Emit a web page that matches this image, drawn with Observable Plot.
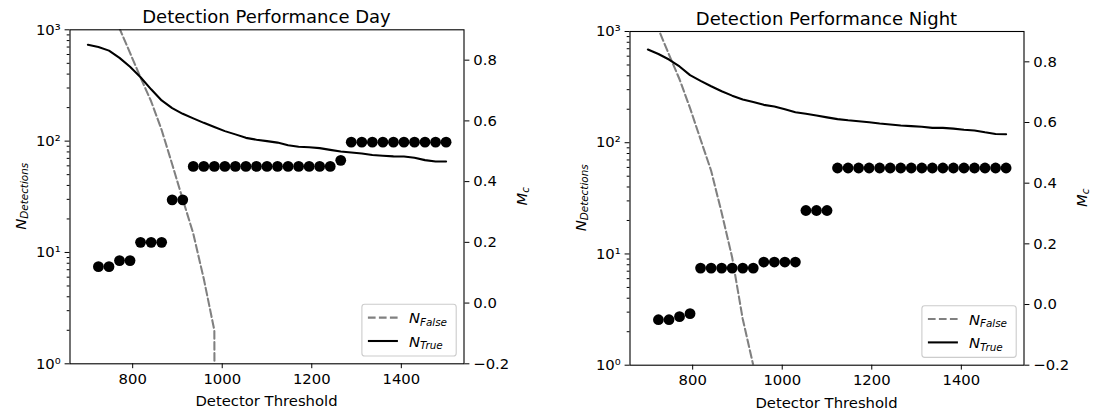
<!DOCTYPE html>
<html>
<head>
<meta charset="utf-8">
<script src="https://cdn.jsdelivr.net/npm/d3@7"></script>
<script src="https://cdn.jsdelivr.net/npm/@observablehq/plot@0.6"></script>
<style>
  body { margin: 0; background: #fff; }
  #wrap { position: relative; width: 1094px; height: 412px; overflow: hidden; background: #fff; }
  #wrap svg { position: absolute; left: 0; top: 0; }
</style>
</head>
<body>
<div id="wrap"></div>
<script>
// ---------- data ----------
const thresholds = [700, 723.5, 747.1, 770.6, 794.1, 817.6, 841.2, 864.7, 888.2, 911.8, 935.3, 958.8, 982.4,
  1005.9, 1029.4, 1052.9, 1076.5, 1100, 1123.5, 1147.1, 1170.6, 1194.1, 1217.6, 1241.2, 1264.7, 1288.2,
  1311.8, 1335.3, 1358.8, 1382.4, 1405.9, 1429.4, 1452.9, 1476.5, 1500];
const mcThresholds = [723.5, 747.1, 770.6, 794.1, 817.6, 841.2, 864.7, 888.2, 911.8, 935.3, 958.8, 982.4,
  1005.9, 1029.4, 1052.9, 1076.5, 1100, 1123.5, 1147.1, 1170.6, 1194.1, 1217.6, 1241.2, 1264.7, 1288.2,
  1311.8, 1335.3, 1358.8, 1382.4, 1405.9, 1429.4, 1452.9, 1476.5, 1500];

const dayTrue = [733, 700, 650, 560, 465, 375, 292, 232, 198, 176, 160, 146, 134, 123, 115, 107, 103, 100, 97,
  92, 89, 88, 86.5, 83.5, 80.7, 79, 77.5, 75, 74, 73, 72.7, 71, 67.5, 65.6, 65.6];
const dayFalse = [4500, 2750, 1700, 1030, 620, 372, 228, 126, 62, 30, 14.8, 5.8, 2, 0, 0, 0, 0, 0, 0,
  0, 0, 0, 0, 0, 0, 0, 0, 0, 0, 0, 0, 0, 0, 0, 0];
const dayMc = [0.12, 0.12, 0.14, 0.14, 0.2, 0.2, 0.2, 0.34, 0.34,
  0.45, 0.45, 0.45, 0.45, 0.45, 0.45, 0.45, 0.45, 0.45, 0.45, 0.45, 0.45, 0.45, 0.45,
  0.47, 0.53, 0.53, 0.53, 0.53, 0.53, 0.53, 0.53, 0.53, 0.53, 0.53];

const nightTrue = [689, 628, 560, 485, 405, 360, 322, 290, 265, 245, 232, 219, 212, 200, 188, 182, 176, 169,
  163, 159, 156, 153, 149, 146, 143, 141, 139, 136, 136, 134, 131, 129, 124, 120, 119];
const nightFalse = [1800, 1050, 620, 372, 205, 107, 56, 23.5, 9.3, 2.6, 1, 0, 0, 0, 0, 0, 0, 0, 0,
  0, 0, 0, 0, 0, 0, 0, 0, 0, 0, 0, 0, 0, 0, 0, 0];
const nightMc = [-0.05, -0.05, -0.04, -0.03, 0.12, 0.12, 0.12, 0.12, 0.12, 0.12, 0.14, 0.14, 0.14, 0.14,
  0.31, 0.31, 0.31, 0.45, 0.45, 0.45, 0.45, 0.45, 0.45, 0.45, 0.45, 0.45, 0.45, 0.45, 0.45, 0.45, 0.45,
  0.45, 0.45, 0.45];

const xTicks = [800, 1000, 1200, 1400];
const yLogTicks = [1, 10, 100, 1000];
const yLogTickLabels = ["10\u2070", "10\u00B9", "10\u00B2", "10\u00B3"];
const yMinorTicks = [2, 3, 4, 5, 6, 7, 8, 9, 20, 30, 40, 50, 60, 70, 80, 90, 200, 300, 400, 500, 600, 700, 800, 900];
const mcTicks = [-0.2, 0, 0.2, 0.4, 0.6, 0.8];
const titles = ["Detection Performance Day", "Detection Performance Night"];

// ---------- drawing ----------
const W = 1094, H = 412;
const FONT = "DejaVu Sans, Verdana, sans-serif";
const FS = 14.8;
const FS_SUB = 10.4;
const wrap = document.getElementById("wrap");

function panel(cfg) {
  const {fl, fr, ft, fb, title, nTrue, nFalse, mc} = cfg;
  const margins = {marginLeft: fl, marginRight: W - fr, marginTop: ft, marginBottom: H - fb};
  const style = {fontFamily: FONT, fontSize: FS + "px", color: "black", background: "transparent", overflow: "visible"};
  const lineData = thresholds.map((t, i) => ({t, nt: nTrue[i], nf: nFalse[i]}));
  const dotData = mcThresholds.map((t, i) => ({t, m: mc[i]}));

  const base = Plot.plot({
    width: W, height: H, ...margins, style,
    x: {domain: [660, 1540]},
    y: {type: "log", domain: [1, 1000]},
    marks: [
      Plot.line(lineData, {x: "t", y: d => Math.max(d.nf, 1e-30), stroke: "#808080", strokeWidth: 2.08,
        strokeDasharray: "7.7,3.3", clip: true}),
      Plot.line(lineData, {x: "t", y: "nt", stroke: "black", strokeWidth: 2.08, clip: true}),
      Plot.axisX({ticks: xTicks, tickSize: 4.9, tickPadding: 4.4, label: null, tickFormat: d => String(d)}),
      Plot.axisY({ticks: yMinorTicks, tickSize: 2.8, tickFormat: () => "", label: null}),
      Plot.axisY({ticks: yLogTicks, tickSize: 4.9, tickPadding: 4.4, label: null,
        tickFormat: d => yLogTickLabels[yLogTicks.indexOf(d)]}),
      Plot.frame({stroke: "black", strokeWidth: 1.1})
    ]
  });

  const over = Plot.plot({
    width: W, height: H, ...margins, style,
    x: {domain: [660, 1540], axis: null},
    y: {domain: [-0.2, 0.9]},
    marks: [
      Plot.dot(dotData, {x: "t", y: "m", r: 5.4, fill: "black", stroke: "none"}),
      Plot.axisY({anchor: "right", ticks: mcTicks, tickSize: 4.9, tickPadding: 4.4, label: null,
        tickFormat: d => d.toFixed(1).replace("-", "\u2212")})
    ]
  });

  wrap.appendChild(base);
  wrap.appendChild(over);

  const svg = d3.select(over);
  const g = svg.append("g").attr("font-family", FONT).attr("fill", "black").attr("text-anchor", "start");
  const cx = (fl + fr) / 2, cy = (ft + fb) / 2;

  // title
  g.append("text").attr("x", cx).attr("y", ft - 6).attr("text-anchor", "middle")
    .attr("font-size", 18).text(title);
  // x label
  g.append("text").attr("x", cx).attr("y", fb + 43).attr("text-anchor", "middle")
    .attr("font-size", FS).text("Detector Threshold");
  // left y label
  const yl = g.append("text").attr("transform", `translate(${fl - 44},${cy}) rotate(-90)`)
    .attr("text-anchor", "middle").attr("font-size", FS).attr("font-style", "italic");
  yl.append("tspan").text("N");
  yl.append("tspan").attr("font-size", FS_SUB).attr("dy", 2.8).text("Detections");
  // right y label
  const yr = g.append("text").attr("transform", `translate(${fr + 63},${cy}) rotate(-90)`)
    .attr("text-anchor", "middle").attr("font-size", FS).attr("font-style", "italic");
  yr.append("tspan").text("M");
  yr.append("tspan").attr("font-size", FS_SUB).attr("dy", 2.8).text("c");

  // legend
  const bw = 94.3, bh = 51.7;
  const bx = fr - 7.3 - bw, by = fb - 7.3 - bh;
  g.append("rect").attr("x", bx).attr("y", by).attr("width", bw).attr("height", bh)
    .attr("rx", 2.8).attr("fill", "white").attr("fill-opacity", 0.8)
    .attr("stroke", "#cccccc").attr("stroke-width", 1.1);
  const items = [
    {label: "False", stroke: "#808080", dash: "7.7,3.3", dy: 13.3},
    {label: "True", stroke: "black", dash: null, dy: 36.7}
  ];
  for (const it of items) {
    g.append("line").attr("x1", bx + 6).attr("x2", bx + 36).attr("y1", by + it.dy).attr("y2", by + it.dy)
      .attr("stroke", it.stroke).attr("stroke-width", 2.08).attr("stroke-dasharray", it.dash);
    const t = g.append("text").attr("x", bx + 47).attr("y", by + it.dy + 5.5).attr("text-anchor", "start")
      .attr("font-size", FS).attr("font-style", "italic");
    t.append("tspan").text("N");
    t.append("tspan").attr("font-size", FS_SUB).attr("dy", 2.8).text(it.label);
  }
}

panel({fl: 69.5, fr: 463.5, ft: 29.3, fb: 363.3, title: titles[0], nTrue: dayTrue, nFalse: dayFalse, mc: dayMc});
panel({fl: 629.5, fr: 1023.5, ft: 31, fb: 364.7, title: titles[1], nTrue: nightTrue, nFalse: nightFalse, mc: nightMc});
</script>
</body>
</html>
